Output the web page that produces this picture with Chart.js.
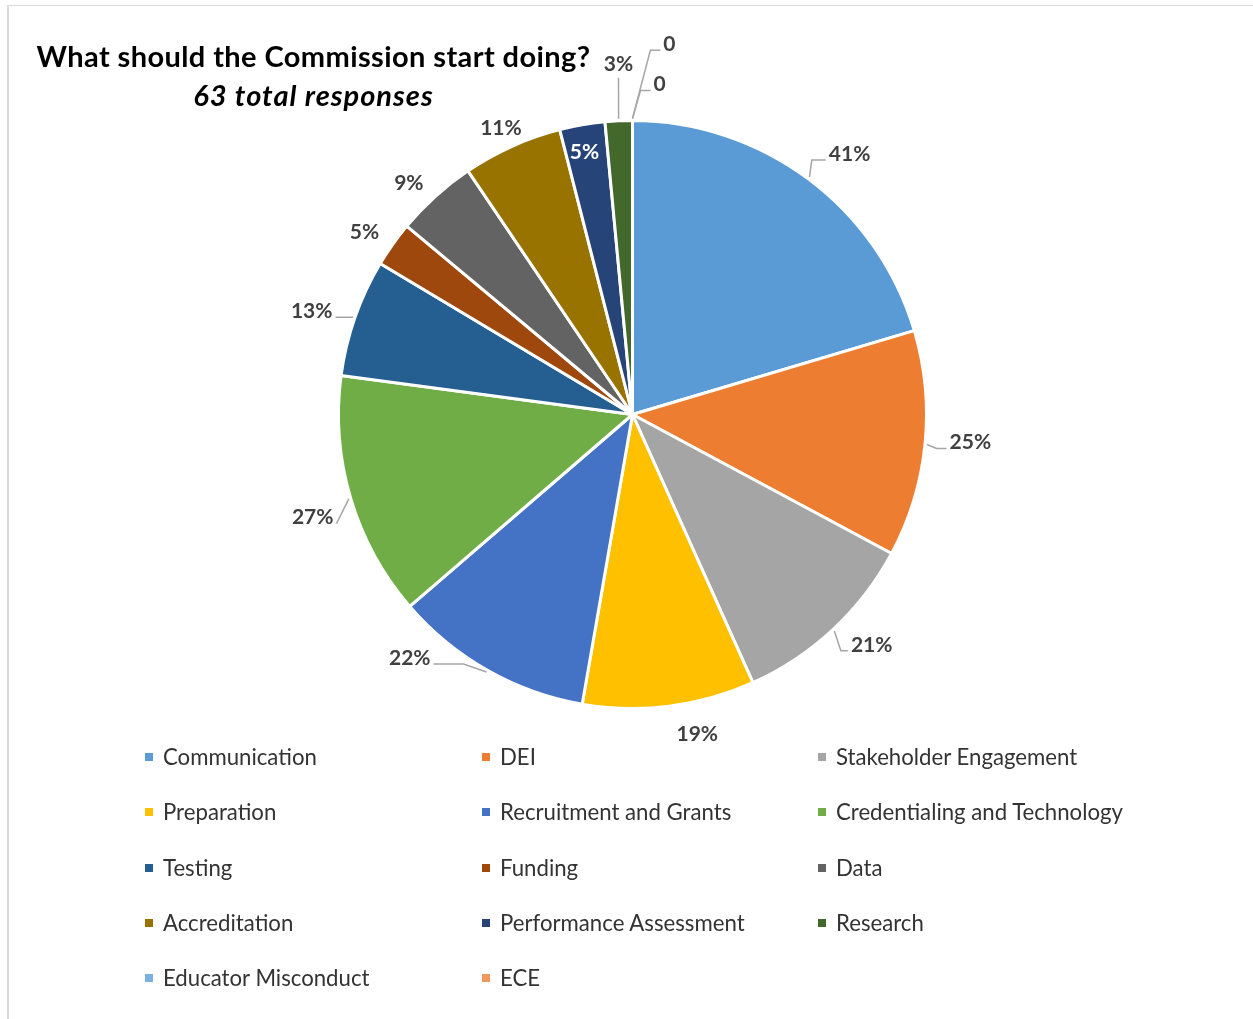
<!DOCTYPE html>
<html>
<head>
<meta charset="utf-8">
<script src="https://cdn.jsdelivr.net/npm/chart.js@4/dist/chart.umd.min.js"></script>
<style>
  html, body { margin: 0; padding: 0; background: #fff; }
  #wrap { position: relative; width: 1253px; height: 1019px; overflow: hidden; font-family: Lato, "Noto Sans", sans-serif; }
  #frame { position: absolute; left: 7px; top: 5px; width: 1300px; height: 1100px; border-top: 1px solid #d9d9d9; border-left: 2px solid #d9d9d9; }
  #title { position: absolute; left: 0; width: 627px; top: 36px; text-align: center; font-weight: bold; color: #000; }
  #title .t1 { font-size: 29px; letter-spacing: 0.4px; line-height: 39px; }
  #title .t2 { font-size: 29px; letter-spacing: 1px; line-height: 39px; font-style: italic; }
  canvas { position: absolute; left: 0; top: 0; }
  .lg { position: absolute; font-size: 22.2px; color: #333; white-space: nowrap; line-height: 26px; }
  .lg span { position: absolute; width: 8px; height: 8px; left: -18px; top: 9px; }
</style>
</head>
<body>
<div id="wrap">
  <div id="frame"></div>
  <canvas id="pie" width="1253" height="1019"></canvas>
  <div id="title"><div class="t1">What should the Commission start doing?</div><div class="t2">63 total responses</div></div>
  <div id="legend"></div>
</div>
<script>
// --- データ ---
const categories = ["Communication", "DEI", "Stakeholder Engagement", "Preparation", "Recruitment and Grants",
  "Credentialing and Technology", "Testing", "Funding", "Data", "Accreditation",
  "Performance Assessment", "Research", "Educator Misconduct", "ECE"];
const percents = [41, 25, 21, 19, 22, 27, 13, 5, 9, 11, 5, 3, 0, 0];
const colors = ["#5B9BD5", "#ED7D31", "#A5A5A5", "#FFC000", "#4472C4", "#70AD47", "#255E91",
  "#9E480E", "#636363", "#997300", "#264478", "#43682B", "#7CAFDD", "#F1975A"];

// ラベル配置（外周からの距離px / 角度ずらし度 / 引き出し線）
const labelGap   = [45, 45, 38, 32, 36, 42, 43, 30, 28, 21, -27, 57, 37, 78];
const labelShift = [3.1, -1.1, -3.1, -4.3, 12.9, -1.3, -1.4, -1.2, -1.9, -0.5, -0.5, 0.4, 4.7, 5.7];
const leaderType = ["side", "side", "side", "", "side", "side", "side", "", "", "", "", "below", "side", "side"];
const leaderElbow = [14, 10, 7, 0, 30, 0, 16, 0, 0, 0, 0, 0, 10, 10];

function labelText(v) { return v === 0 ? "0" : v + "%"; }

const sliceLabels = {
  id: "sliceLabels",
  afterDatasetsDraw(chart) {
    const ctx = chart.ctx;
    const meta = chart.getDatasetMeta(0);
    ctx.save();
    ctx.font = "bold 21px Lato";
    ctx.textAlign = "center";
    ctx.textBaseline = "middle";
    meta.data.forEach((arc, i) => {
      const p = arc.getProps(["x", "y", "startAngle", "endAngle", "outerRadius"], true);
      const mid = (p.startAngle + p.endAngle) / 2;
      const ang = mid + labelShift[i] * Math.PI / 180;
      const d = p.outerRadius + labelGap[i];
      const lx = p.x + Math.cos(ang) * d;
      const ly = p.y + Math.sin(ang) * d;
      const text = labelText(percents[i]);
      const w = ctx.measureText(text).width;

      const sx = p.x + Math.cos(mid) * (p.outerRadius + 2);
      const sy = p.y + Math.sin(mid) * (p.outerRadius + 2);
      ctx.strokeStyle = "#a6a6a6";
      ctx.lineWidth = 1.5;
      if (leaderType[i] === "side") {
        const ey = ly + 6;
        let ex, bx;
        if (lx > sx) { ex = lx - w / 2 - 3; bx = ex - leaderElbow[i]; }
        else { ex = lx + w / 2 + 3; bx = ex + leaderElbow[i]; }
        ctx.beginPath();
        ctx.moveTo(sx, sy);
        ctx.lineTo(bx, ey);
        ctx.lineTo(ex, ey);
        ctx.stroke();
      } else if (leaderType[i] === "below") {
        ctx.beginPath();
        ctx.moveTo(sx, sy);
        ctx.lineTo(lx, ly + 14);
        ctx.stroke();
      }
      ctx.fillStyle = labelGap[i] < 0 ? "#fff" : "#404040";
      ctx.fillText(text, lx, ly);
    });
    ctx.restore();
  }
};

new Chart(document.getElementById("pie"), {
  type: "pie",
  data: {
    labels: categories,
    datasets: [{ data: percents, backgroundColor: colors, borderColor: "#fff", borderWidth: 3 }]
  },
  options: {
    responsive: false,
    animation: false,
    devicePixelRatio: 1,
    layout: { padding: { left: 337, right: 325, top: 119, bottom: 309 } },
    plugins: { legend: { display: false }, tooltip: { enabled: false } }
  },
  plugins: [sliceLabels]
});

// 凡例（3列）
const legend = document.getElementById("legend");
const colX = [163, 500, 836];
categories.forEach((name, i) => {
  const div = document.createElement("div");
  div.className = "lg";
  div.style.left = colX[i % 3] + "px";
  div.style.top = (757 - 13 + Math.floor(i / 3) * 55.25) + "px";
  const sw = document.createElement("span");
  sw.style.background = colors[i];
  div.appendChild(sw);
  div.appendChild(document.createTextNode(name));
  legend.appendChild(div);
});
</script>
</body>
</html>
